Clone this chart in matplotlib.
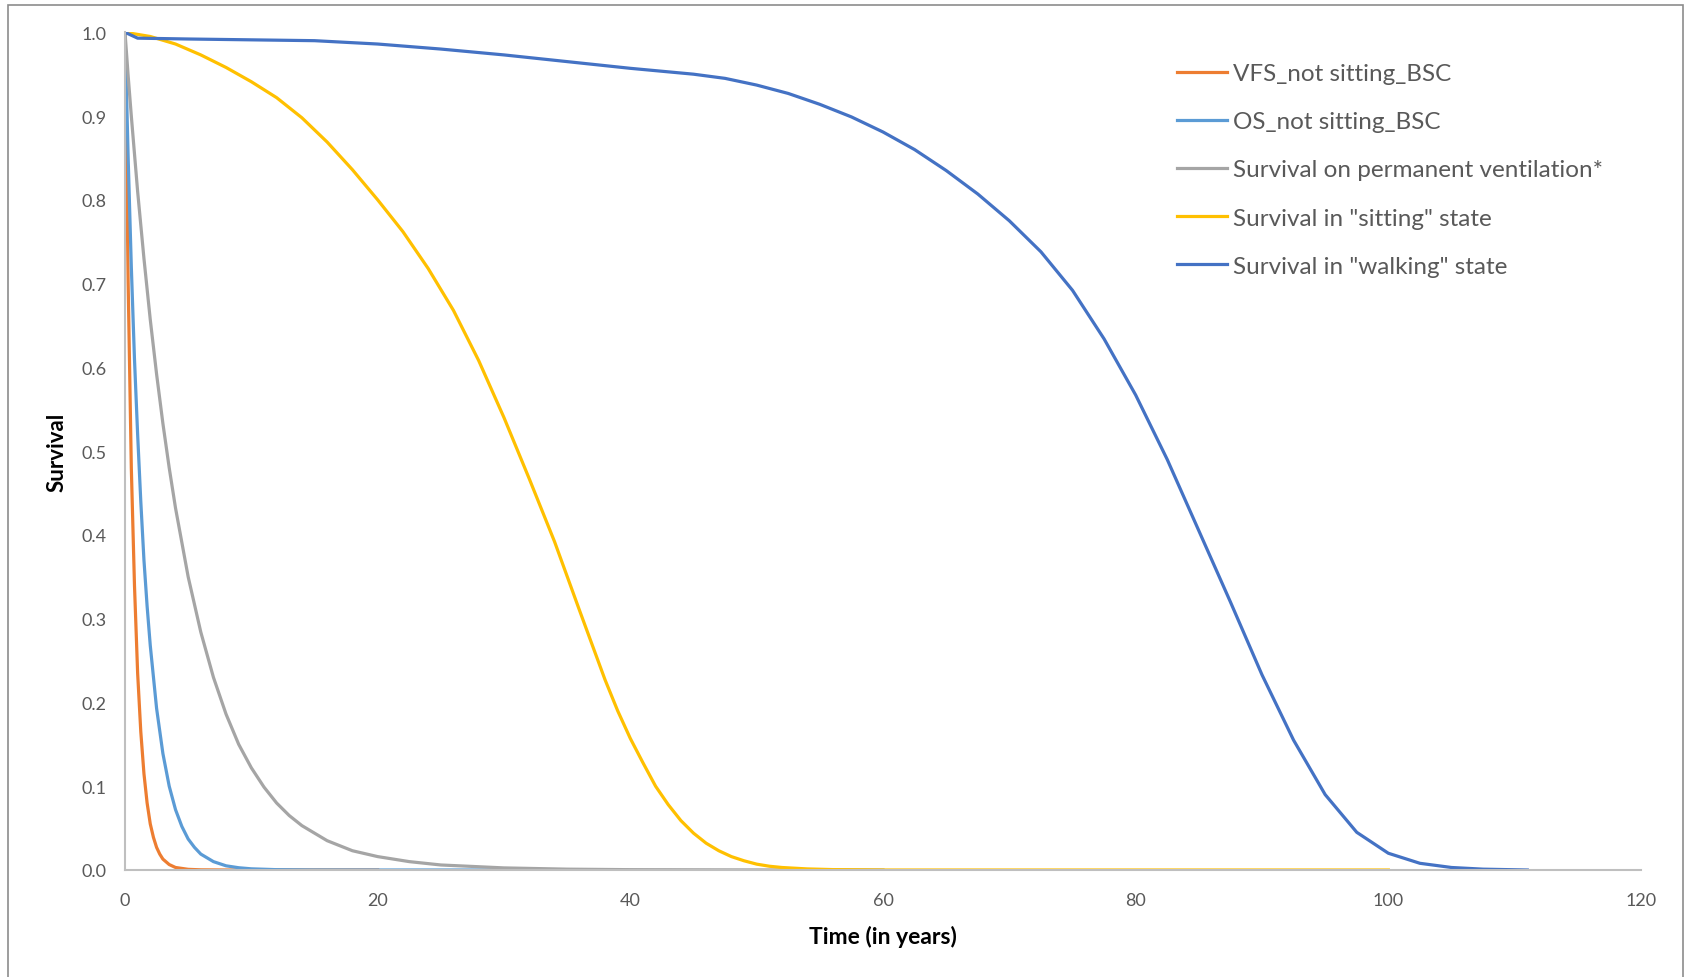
import matplotlib.pyplot as plt
from matplotlib.patches import Rectangle
from matplotlib.ticker import FormatStrFormatter

plt.rcParams['font.family'] = ['Lato', 'DejaVu Sans']

# Values (time in years, survival proportion)
vfs_t = [0, 0.25, 0.5, 0.75, 1, 1.25, 1.5, 1.75, 2, 2.25, 2.5, 2.75, 3, 3.5, 4, 5, 6, 8, 10, 20]
vfs_s = [1.0, 0.70, 0.48, 0.34, 0.235, 0.165, 0.115, 0.08, 0.055, 0.039, 0.027, 0.019,
         0.013, 0.0065, 0.003, 0.0008, 0.0002, 0.0, 0.0, 0.0]

os_t = [0, 0.25, 0.5, 0.75, 1, 1.25, 1.5, 1.75, 2, 2.5, 3, 3.5, 4, 4.5, 5, 5.5, 6, 7, 8, 9,
        10, 12, 15, 20, 30]
os_s = [1.0, 0.85, 0.72, 0.61, 0.52, 0.44, 0.37, 0.315, 0.268, 0.193, 0.139, 0.10, 0.072,
        0.052, 0.037, 0.027, 0.019, 0.010, 0.005, 0.0027, 0.0014, 0.0004, 0.00005, 0.0, 0.0]

vent_t = [0, 0.25, 0.5, 1, 1.5, 2, 2.5, 3, 3.5, 4, 5, 6, 7, 8, 9, 10, 11, 12, 13, 14, 16,
          18, 20, 22.5, 25, 30, 35, 40, 50, 60]
vent_s = [1.0, 0.948, 0.90, 0.81, 0.73, 0.657, 0.592, 0.533, 0.48, 0.432, 0.35, 0.284,
          0.23, 0.186, 0.15, 0.122, 0.099, 0.08, 0.065, 0.053, 0.035, 0.023, 0.016, 0.010,
          0.006, 0.0025, 0.001, 0.0004, 0.0001, 0.0]

sit_t = [0, 2, 4, 6, 8, 10, 12, 14, 16, 18, 20, 22, 24, 26, 28, 30, 32, 34, 36, 38, 39, 40,
         41, 42, 43, 44, 45, 46, 47, 48, 49, 50, 51, 52, 54, 56, 60, 80, 100]
sit_s = [1.0, 0.995, 0.986, 0.973, 0.958, 0.941, 0.922, 0.898, 0.869, 0.836, 0.80, 0.762,
         0.718, 0.668, 0.608, 0.54, 0.467, 0.392, 0.309, 0.227, 0.19, 0.157, 0.128, 0.10,
         0.078, 0.059, 0.044, 0.032, 0.023, 0.016, 0.011, 0.007, 0.0045, 0.003, 0.0013,
         0.0005, 0.0, 0.0, 0.0]

walk_t = [0, 1, 5, 10, 15, 20, 25, 30, 35, 40, 45, 47.5, 50, 52.5, 55, 57.5, 60, 62.5, 65,
          67.5, 70, 72.5, 75, 77.5, 80, 82.5, 85, 87.5, 90, 92.5, 95, 97.5, 100, 102.5,
          105, 107.5, 111]
walk_s = [1.0, 0.993, 0.992, 0.991, 0.99, 0.986, 0.98, 0.973, 0.965, 0.957, 0.95, 0.945,
          0.937, 0.927, 0.914, 0.899, 0.881, 0.86, 0.835, 0.807, 0.775, 0.738, 0.692, 0.634,
          0.567, 0.49, 0.405, 0.32, 0.233, 0.155, 0.09, 0.045, 0.02, 0.008, 0.003, 0.001,
          0.0]

labels = ['VFS_not sitting_BSC', 'OS_not sitting_BSC', 'Survival on permanent ventilation*',
          'Survival in "sitting" state', 'Survival in "walking" state']
colors = ['#ED7D31', '#5B9BD5', '#A5A5A5', '#FFC000', '#4472C4']

fig = plt.figure(figsize=(16.89, 9.78), dpi=100)
ax = fig.add_axes([125 / 1689, 1 - 871 / 978, (1641 - 125) / 1689, (871 - 33.3) / 978])

series = [(vfs_t, vfs_s), (os_t, os_s), (vent_t, vent_s), (sit_t, sit_s), (walk_t, walk_s)]
for (t, s), lab, c in zip(series, labels, colors):
    ax.plot(t, s, color=c, lw=2.3, label=lab, solid_joinstyle='round')

ax.set_xlim(0, 120)
ax.set_ylim(0, 1.0)
ax.set_xticks(range(0, 121, 20))
ax.set_yticks([i / 10 for i in range(11)])
ax.yaxis.set_major_formatter(FormatStrFormatter('%.1f'))
ax.tick_params(length=0, labelsize=13, labelcolor='#595959')
ax.tick_params(axis='y', pad=13)
ax.tick_params(axis='x', pad=16)
for side in ['top', 'right']:
    ax.spines[side].set_visible(False)
for side in ['left', 'bottom']:
    ax.spines[side].set_color('#BFBFBF')
    ax.spines[side].set_linewidth(1.5)

ax.set_xlabel('Time (in years)', fontsize=16.5, fontweight='bold', color='black', labelpad=12)
ax.set_ylabel('Survival', fontsize=16, fontweight='bold', color='black', labelpad=10)

ax.legend(loc='upper left', bbox_to_anchor=(1177 / 1689, 1 - 64 / 978),
          bbox_transform=fig.transFigure, frameon=False, fontsize=17.5,
          labelcolor='#595959', handlelength=2.05, handletextpad=0.25,
          labelspacing=1.12, borderpad=0, borderaxespad=0)

# outer chart border
fig.patches.append(Rectangle((8 / 1689, -0.05), (1683 - 8) / 1689, 1.05 - 6 / 978,
                             transform=fig.transFigure, fill=False,
                             edgecolor='#8C8C8C', lw=1.2))

fig.savefig('out.png', dpi=100)
